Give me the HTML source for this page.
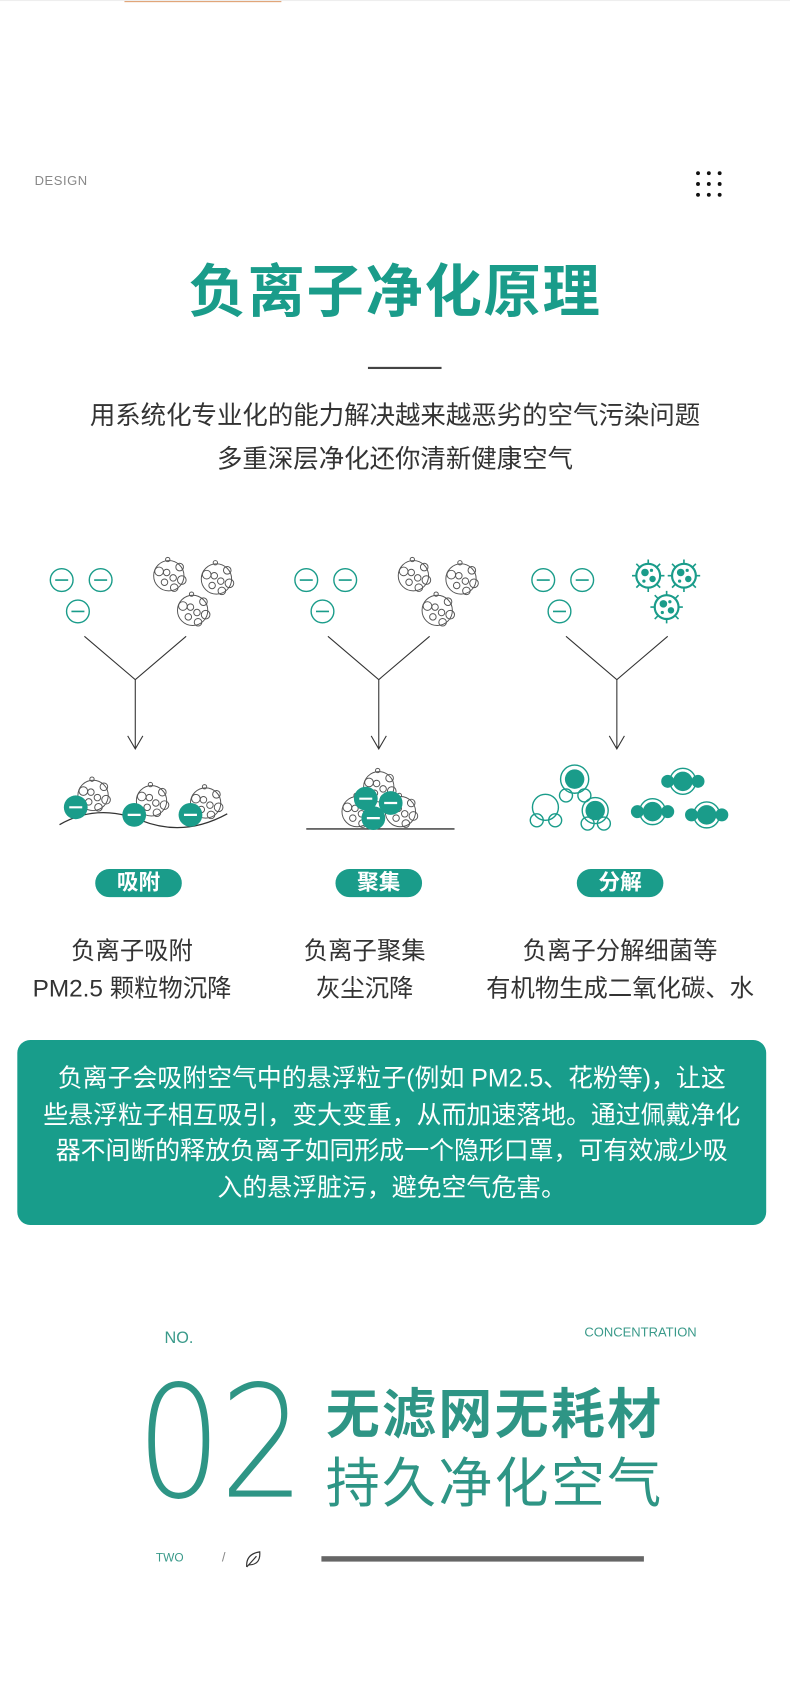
<!DOCTYPE html>
<html><head><meta charset="utf-8"><style>
html,body{margin:0;padding:0;background:#fff;}
body{width:790px;height:1696px;overflow:hidden;position:relative;}
#w{position:absolute;left:0;top:0;width:730px;height:1567px;transform:scale(1.08219);transform-origin:0 0;font-family:"Liberation Sans","Noto Sans CJK SC",sans-serif;}
.a{position:absolute;white-space:nowrap;}
.c{text-align:center;}
.pill{position:absolute;height:26px;width:80px;border-radius:13px;background:#1a9c8a;color:#fff;font-weight:bold;font-size:20px;line-height:26px;text-align:center;}
</style></head><body><div id="w">
<div class="a" style="left:115px;top:0;width:145px;height:2px;background:#e0a070"></div>
<div class="a" style="left:0;top:0;width:730px;height:1px;background:#eee;"></div>
<div class="a" style="left:32px;top:160px;font-size:12px;color:#888;letter-spacing:0.5px">DESIGN</div>
<svg class="a" style="left:640px;top:155px" width="34" height="30"><g fill="#111">
<circle cx="5" cy="5" r="1.8"/><circle cx="15" cy="5" r="1.8"/><circle cx="25" cy="5" r="1.8"/>
<circle cx="5" cy="15" r="1.8"/><circle cx="15" cy="15" r="1.8"/><circle cx="25" cy="15" r="1.8"/>
<circle cx="5" cy="25" r="1.8"/><circle cx="15" cy="25" r="1.8"/><circle cx="25" cy="25" r="1.8"/></g></svg>
<div class="a c" style="left:0;width:730px;top:238px;font-size:53px;line-height:66px;color:#1a9c8a;font-weight:bold;letter-spacing:1.5px">负离子净化原理</div>
<div class="a" style="left:340px;top:339px;width:68px;height:1.5px;background:#444"></div>
<div class="a c" style="left:0;width:730px;top:368px;font-size:23.5px;line-height:32px;color:#333">用系统化专业化的能力解决越来越恶劣的空气污染问题</div>
<div class="a c" style="left:0;width:730px;top:408px;font-size:23.5px;line-height:32px;color:#333">多重深层净化还你清新健康空气</div>

<svg class="a" style="left:0;top:500px" width="730" height="290" viewBox="0 500 730 290">
<defs>
<g id="ion"><circle r="10.5" fill="#fff" stroke="#1a9c8a" stroke-width="1.3"/><line x1="-6" x2="6" stroke="#1a9c8a" stroke-width="1.5"/></g>
<g id="dust" fill="none" stroke="#555" stroke-width="0.9"><circle r="14"/><circle cx="-9" cy="-4" r="4"/><circle cx="10" cy="-8" r="3.5"/><circle cx="12" cy="4" r="4"/><circle cx="5" cy="11" r="3.5"/><circle cx="-2" cy="-3" r="3"/><circle cx="4" cy="2" r="3"/><circle cx="-4" cy="6" r="3"/><circle cx="-1" cy="-15" r="2"/></g>
<g id="vir" fill="#1a9c8a"><circle r="11" fill="#fff" stroke="#1a9c8a" stroke-width="2"/><circle cx="-3" cy="-3" r="3.5"/><circle cx="4" cy="3" r="3"/><circle cx="3" cy="-5" r="1.5"/><circle cx="-4" cy="5" r="1.5"/>
<g stroke="#1a9c8a" stroke-width="1.5"><line x1="0" y1="-11" x2="0" y2="-15"/><line x1="0" y1="11" x2="0" y2="15"/><line x1="-11" x2="-15"/><line x1="11" x2="15"/><line x1="8" y1="8" x2="11" y2="11"/><line x1="-8" y1="8" x2="-11" y2="11"/><line x1="8" y1="-8" x2="11" y2="-11"/><line x1="-8" y1="-8" x2="-11" y2="-11"/></g></g>
<g id="gion"><circle r="11" fill="#1a9c8a"/><line x1="-6" x2="6" stroke="#fff" stroke-width="2"/></g>
<g id="Y" fill="none" stroke="#333" stroke-width="1"><path d="M-47 588 L0 628 L47 588 M0 628 L0 692 M-7 680 L0 692 L7 680"/></g>
</defs>
<use href="#ion" x="57" y="536"/><use href="#ion" x="93" y="536"/><use href="#ion" x="72" y="565"/>
<use href="#dust" x="156" y="532"/><use href="#dust" x="200" y="535"/><use href="#dust" x="178" y="564"/>
<use href="#Y" x="125" y="0"/>
<path d="M55 762 Q90 742 130 758 T210 752" fill="none" stroke="#333" stroke-width="1.2"/>
<use href="#dust" x="86" y="735"/><use href="#dust" x="140" y="740"/><use href="#dust" x="190" y="742"/>
<use href="#gion" x="70" y="746"/><use href="#gion" x="124" y="753"/><use href="#gion" x="176" y="753"/>

<use href="#ion" x="283" y="536"/><use href="#ion" x="319" y="536"/><use href="#ion" x="298" y="565"/>
<use href="#dust" x="382" y="532"/><use href="#dust" x="426" y="535"/><use href="#dust" x="404" y="564"/>
<use href="#Y" x="350" y="0"/>
<line x1="283" y1="766" x2="420" y2="766" stroke="#333" stroke-width="1.2"/>
<use href="#dust" x="350" y="727"/><use href="#dust" x="330" y="750"/><use href="#dust" x="370" y="750"/>
<use href="#gion" x="338" y="738"/><use href="#gion" x="361" y="742"/><use href="#gion" x="345" y="756"/>

<use href="#ion" x="502" y="536"/><use href="#ion" x="538" y="536"/><use href="#ion" x="517" y="565"/>
<use href="#vir" x="599" y="532"/><use href="#vir" x="632" y="532"/><use href="#vir" x="616" y="561"/>
<use href="#Y" x="570" y="0"/>
<g fill="none" stroke="#1a9c8a" stroke-width="1.3">
<circle cx="531" cy="720" r="13"/><circle cx="523" cy="735" r="6"/><circle cx="540" cy="735" r="6"/>
<circle cx="504" cy="746" r="12"/><circle cx="496" cy="758" r="6"/><circle cx="513" cy="758" r="6"/>
<circle cx="550" cy="749" r="12"/><circle cx="543" cy="761" r="6"/><circle cx="558" cy="761" r="6"/>
<circle cx="631" cy="722" r="12"/><circle cx="603" cy="750" r="12"/><circle cx="653" cy="753" r="12"/></g>
<g fill="#1a9c8a"><circle cx="531" cy="720" r="9"/><circle cx="550" cy="749" r="9"/>
<circle cx="631" cy="722" r="9"/><circle cx="617" cy="722" r="6"/><circle cx="645" cy="722" r="6"/>
<circle cx="603" cy="750" r="9"/><circle cx="589" cy="750" r="6"/><circle cx="617" cy="750" r="6"/>
<circle cx="653" cy="753" r="9"/><circle cx="639" cy="753" r="6"/><circle cx="667" cy="753" r="6"/></g>
</svg>

<div class="pill" style="left:88px;top:803px">吸附</div>
<div class="pill" style="left:310px;top:803px">聚集</div>
<div class="pill" style="left:533px;top:803px">分解</div>
<div class="a c" style="left:0;width:244px;top:861px;font-size:22.5px;line-height:35px;color:#333">负离子吸附<br>PM2.5 颗粒物沉降</div>
<div class="a c" style="left:240px;width:194px;top:861px;font-size:22.5px;line-height:35px;color:#333">负离子聚集<br>灰尘沉降</div>
<div class="a c" style="left:440px;width:266px;top:861px;font-size:22.5px;line-height:35px;color:#333">负离子分解细菌等<br>有机物生成二氧化碳、水</div>

<div class="a" style="left:16px;top:961px;width:692px;height:171px;border-radius:12px;background:#189d8b"></div>
<div class="a c" style="left:16px;width:692px;top:980px;font-size:23px;line-height:33.5px;color:#fff;white-space:normal">负离子会吸附空气中的悬浮粒子(例如 PM2.5、花粉等)，让这<br>些悬浮粒子相互吸引，变大变重，从而加速落地。通过佩戴净化<br>器不间断的释放负离子如同形成一个隐形口罩，可有效减少吸<br>入的悬浮脏污，避免空气危害。</div>

<div class="a" style="left:152px;top:1228px;font-size:15px;color:#3a9a8a">NO.</div>
<div class="a" style="left:540px;top:1224px;font-size:12px;color:#3a9a8a">CONCENTRATION</div>
<div class="a" style="left:126px;top:1258px;font-size:144px;line-height:150px;color:#2e9585;font-family:'DejaVu Sans',sans-serif;font-weight:200;letter-spacing:-2px;transform:scaleX(0.86);transform-origin:0 0">02</div>
<div class="a" style="left:301px;top:1278px;font-size:50px;line-height:58px;color:#2e9585;font-weight:bold;letter-spacing:2px">无滤网无耗材</div>
<div class="a" style="left:301px;top:1342px;font-size:50px;line-height:58px;color:#2e9585;letter-spacing:2px">持久净化空气</div>
<div class="a" style="left:144px;top:1434px;font-size:11px;color:#3a9a8a">TWO</div>
<div class="a" style="left:205px;top:1432px;font-size:12px;color:#888">/</div>
<svg class="a" style="left:224px;top:1431px" width="20" height="20"><path d="M4 17 Q3 5 16 3 Q17 15 6 15 M4 17 L13 7" fill="none" stroke="#333" stroke-width="1.1"/></svg>
<div class="a" style="left:297px;top:1438px;width:298px;height:5px;background:#666"></div>
</div></body></html>
